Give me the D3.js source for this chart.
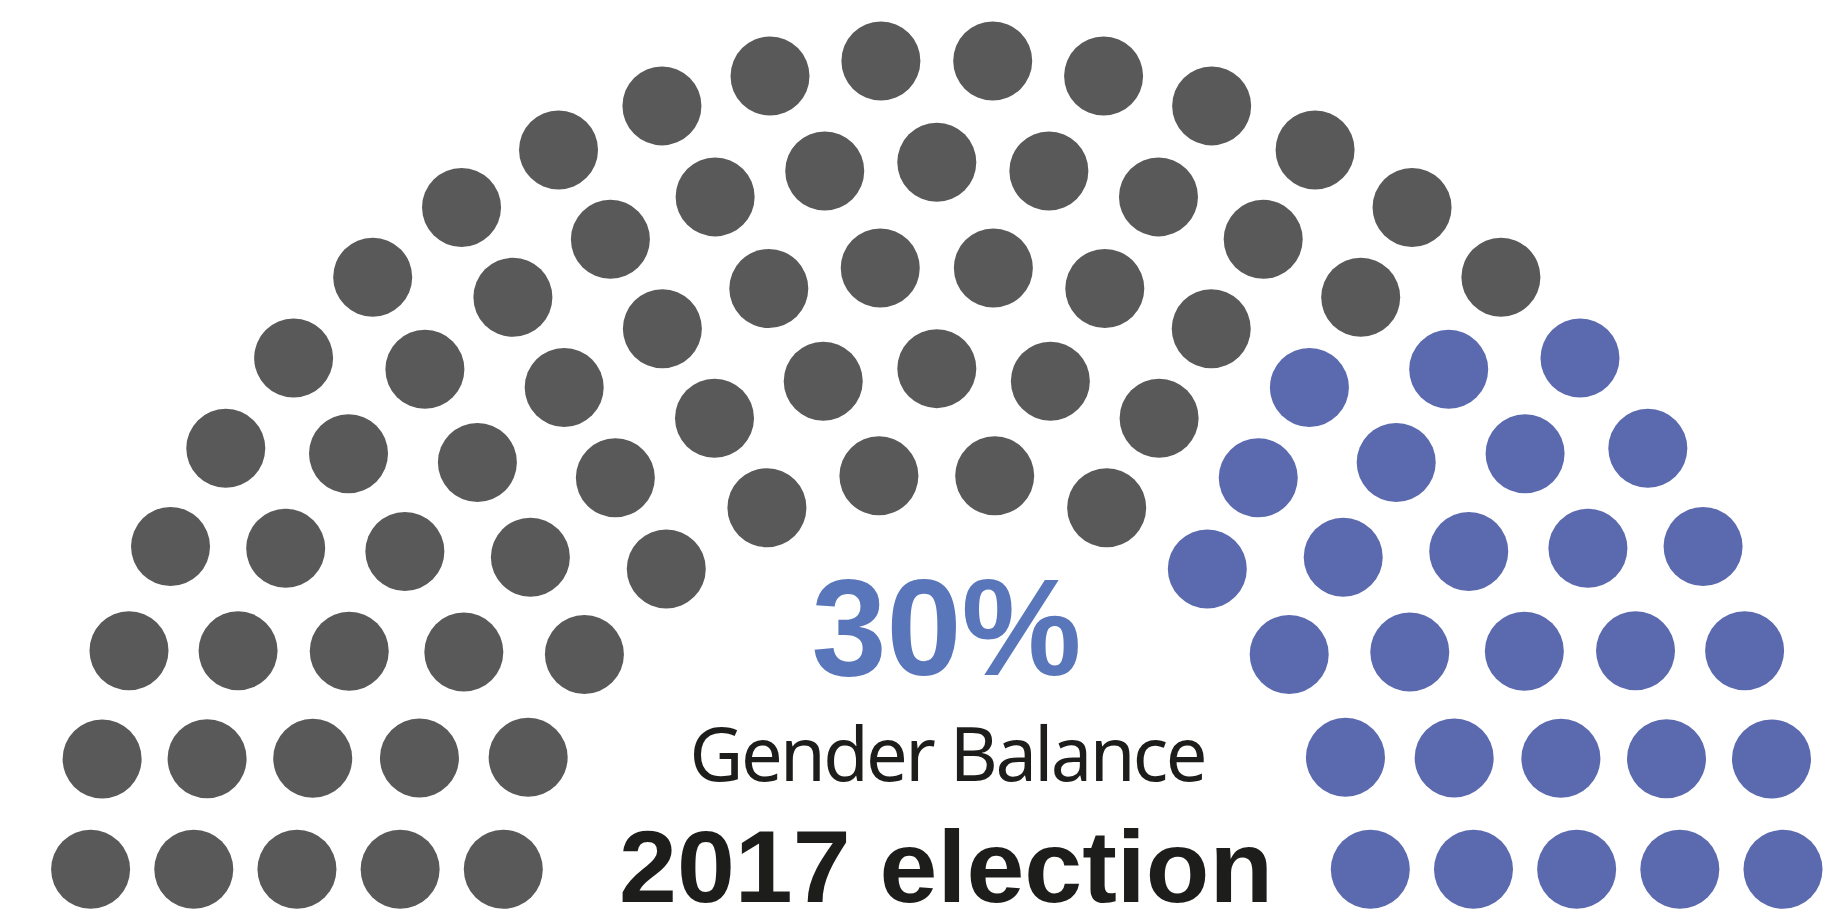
<!DOCTYPE html>
<html>
<head>
<meta charset="utf-8">
<script src="https://cdn.jsdelivr.net/npm/d3@7"></script>
<style>
  html, body { margin: 0; padding: 0; background: #ffffff; }
  svg { display: block; }
  .bold { font-family: Arial, "Liberation Sans", Helvetica, sans-serif; font-weight: 700; }
  .regular { font-family: "Noto Sans", "Open Sans", sans-serif; font-weight: 400; }
</style>
</head>
<body>
<svg id="chart" width="1827" height="915"></svg>
<script>
// Seats in each arc, innermost arc first
const seatsPerRow = [12, 15, 18, 21, 24];
// Seats held by women in each arc (right-hand end of the arc)
const womenPerRow = [4, 5, 6, 6, 6];
const groups = ["Men", "Women"];
const subtitle = "Gender Balance";
const title = "2017 election";

const width = 1827, height = 915;
const cx = 936.8, cy = 869.3;
const dotR = 39.5;

const svg = d3.select("#chart");
svg.append("rect").attr("width", width).attr("height", height).attr("fill", "#ffffff");

const color = d3.scaleOrdinal().domain(groups).range(["#595959", "#5b69ae"]);
const rowRadius = d3.scaleLinear().domain([0, seatsPerRow.length - 1]).range([433.5, 846.2]);

// Build the seat list: each arc is spread evenly from the left end (pi) to the right end (0)
const seats = [];
seatsPerRow.forEach((n, row) => {
  const angle = d3.scaleLinear().domain([0, n - 1]).range([Math.PI, 0]);
  const R = rowRadius(row);
  for (let i = 0; i < n; i++) {
    const a = angle(i);
    seats.push({
      row, i,
      group: i >= n - womenPerRow[row] ? "Women" : "Men",
      x: cx + (R - 27 * Math.sin(a)) * Math.cos(a),
      y: cy - (R - 36) * Math.sin(a)
    });
  }
});

svg.append("g")
  .selectAll("circle")
  .data(seats)
  .join("circle")
  .attr("cx", d => d.x)
  .attr("cy", d => d.y)
  .attr("r", dotR)
  .attr("fill", d => color(d.group));

const totalSeats = d3.sum(seatsPerRow);
const womenSeats = d3.sum(womenPerRow);
const share = d3.format(".0%")(womenSeats / totalSeats);

svg.append("text")
  .attr("class", "bold")
  .attr("x", 946.5)
  .attr("y", 675)
  .attr("text-anchor", "middle")
  .attr("font-size", 137)
  .attr("fill", "#5876b9")
  .attr("textLength", 270)
  .attr("lengthAdjust", "spacingAndGlyphs")
  .text(share);

// Subtitle: keep glyph size, tighten letter spacing to the target width
const sub = svg.append("text")
  .attr("class", "regular")
  .attr("x", 946)
  .attr("y", 781)
  .attr("text-anchor", "middle")
  .attr("font-size", 74)
  .attr("fill", "#1d1d1b")
  .text(subtitle);
const natural = sub.node().getComputedTextLength();
const spacing = (518 - natural) / (subtitle.length - 1);
sub.attr("letter-spacing", spacing.toFixed(2))
   .attr("x", 946 - spacing / 2);

svg.append("text")
  .attr("class", "bold")
  .attr("x", 946)
  .attr("y", 902)
  .attr("text-anchor", "middle")
  .attr("font-size", 102)
  .attr("fill", "#1d1d1b")
  .attr("textLength", 654)
  .attr("lengthAdjust", "spacingAndGlyphs")
  .text(title);
</script>
</body>
</html>
